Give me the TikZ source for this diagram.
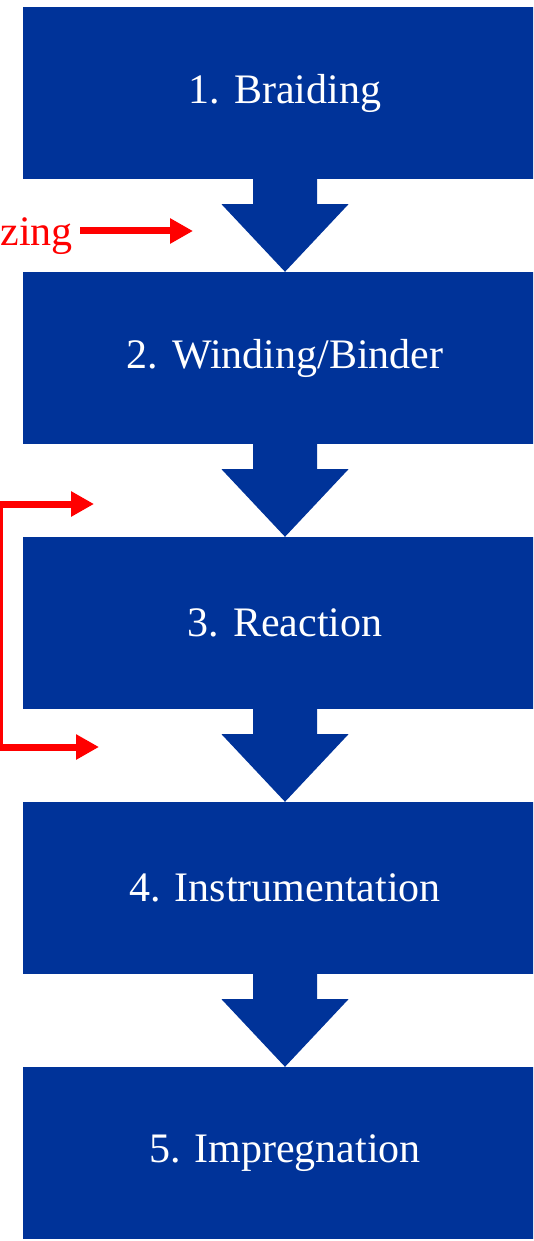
\documentclass[tikz,border=0pt]{standalone}
\usepackage{fontspec}
\setmainfont{Liberation Serif}
\usetikzlibrary{arrows.meta,calc}
\definecolor{flowblue}{RGB}{0,51,153}
\definecolor{markred}{RGB}{255,0,0}
\tikzset{
  stepbox/.style={rectangle, fill=flowblue, draw=none, minimum width=524pt, minimum height=172pt, inner sep=0pt, text=white, font=\fontsize{42}{50}\selectfont},
  flowarrow/.style={fill=flowblue, draw=none},
  redarrow/.style={draw=markred, line width=7pt, line join=miter, -{Triangle[length=23pt,width=24pt]}},
  redlabel/.style={text=markred, font=\fontsize{42}{50}\selectfont, inner sep=0pt}
}
\begin{document}
\begin{tikzpicture}[x=1pt,y=-1pt]
\useasboundingbox (0,0) rectangle (533,1241);
\clip (0,0) rectangle (533,1241);
\node[stepbox] (b1) at (285,93) {1. Braiding};
\node[stepbox] (b2) at (285,358) {2. Winding/Binder};
\node[stepbox] (b3) at (285,623) {3. Reaction};
\node[stepbox] (b4) at (285,888) {4. Instrumentation};
\node[stepbox] (b5) at (285,1153) {5. Impregnation};
\foreach \a/\b in {b1/b2,b2/b3,b3/b4,b4/b5}{
  \fill[flowarrow] ($(\a.south)+(-32,0)$) -- ++(0,25) -- ++(-31.5,0) -- (\b.north)
     -- ($(\a.south)+(63.5,25)$) -- ++(-31.5,0) -- ($(\a.south)+(32,-1)$) -- ($(\a.south)+(-32,-1)$) -- cycle;
}
\node[redlabel, anchor=base east] (z) at (73,246) {zing};
\coordinate (a1s) at (80,231);
\coordinate (a1e) at (193,231);
\draw[redarrow] (a1s) -- (a1e);
\coordinate (t1) at (94,504);
\coordinate (c1) at (-1,504);
\coordinate (c2) at (-1,747);
\coordinate (t2) at (99,747);
\draw[redarrow,{Triangle[length=23pt,width=24pt]}-{Triangle[length=23pt,width=24pt]}] (t1) -- (c1) -- (c2) -- (t2);
\end{tikzpicture}
\end{document}
